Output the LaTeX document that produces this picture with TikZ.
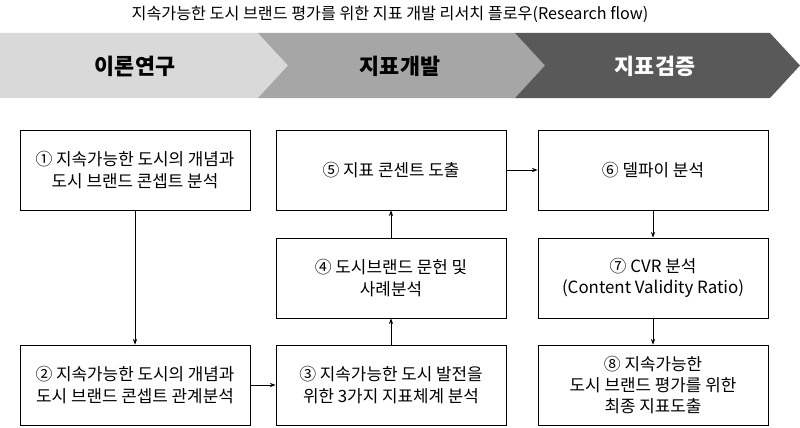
\documentclass[tikz,border=0pt]{standalone}
\usepackage{fontspec}
\setmainfont{Noto Sans CJK KR}
\usetikzlibrary{arrows.meta}

\tikzset{
    box/.style={draw=black, line width=0.6pt, minimum width=5.75cm, minimum height=2cm, align=center, font=\fontsize{12}{15}\selectfont},
    flow/.style={-{Stealth[length=4pt]}, line width=0.5pt},
    phase/.style={font=\bfseries\fontsize{15.5}{17}\selectfont}
}

\begin{document}
\begin{tikzpicture}[x=0.025cm, y=-0.025cm]
    \useasboundingbox (0,0) rectangle (800,427);
    % title
    \node (title) at (390,14) {\fontsize{11.5}{13}\selectfont 지속가능한 도시 브랜드 평가를 위한 지표 개발 리서치 플로우(Research flow)};
    % phase chevrons
    \fill[black!15] (0,33) -- (258,33) -- (288,65.5) -- (258,98) -- (0,98) -- cycle;
    \fill[black!35] (258,33) -- (515,33) -- (545,65.5) -- (515,98) -- (258,98) -- (288,65.5) -- cycle;
    \fill[black!65] (515,33) -- (770,33) -- (800,65.5) -- (770,98) -- (515,98) -- (545,65.5) -- cycle;
    \node[phase] (p1) at (135,66) {이론연구};
    \node[phase] (p2) at (400,66) {지표개발};
    \node[phase, white] (p3) at (655,66) {지표검증};
    % boxes
    \node[box] (b1) at (135,170) {① 지속가능한 도시의 개념과\\도시 브랜드 콘셉트 분석};
    \node[box] (b2) at (135,385) {② 지속가능한 도시의 개념과\\도시 브랜드 콘셉트 관계분석};
    \node[box] (b3) at (391,385) {③ 지속가능한 도시 발전을\\위한 3가지 지표체계 분석};
    \node[box] (b4) at (391,278) {④ 도시브랜드 문헌 및\\사례분석};
    \node[box] (b5) at (391,170) {⑤ 지표 콘센트 도출};
    \node[box] (b6) at (653,170) {⑥ 델파이 분석};
    \node[box] (b7) at (653,278) {⑦ CVR 분석\\(Content Validity Ratio)};
    \node[box] (b8) at (653,385) {⑧ 지속가능한\\도시 브랜드 평가를 위한\\최종 지표도출};
    % transitions
    \draw[flow] (b1) -- (b2);
    \draw[flow] (b2) -- (b3);
    \draw[flow] (b3) -- (b4);
    \draw[flow] (b4) -- (b5);
    \draw[flow] (b5) -- (b6);
    \draw[flow] (b6) -- (b7);
    \draw[flow] (b7) -- (b8);
\end{tikzpicture}
\end{document}
